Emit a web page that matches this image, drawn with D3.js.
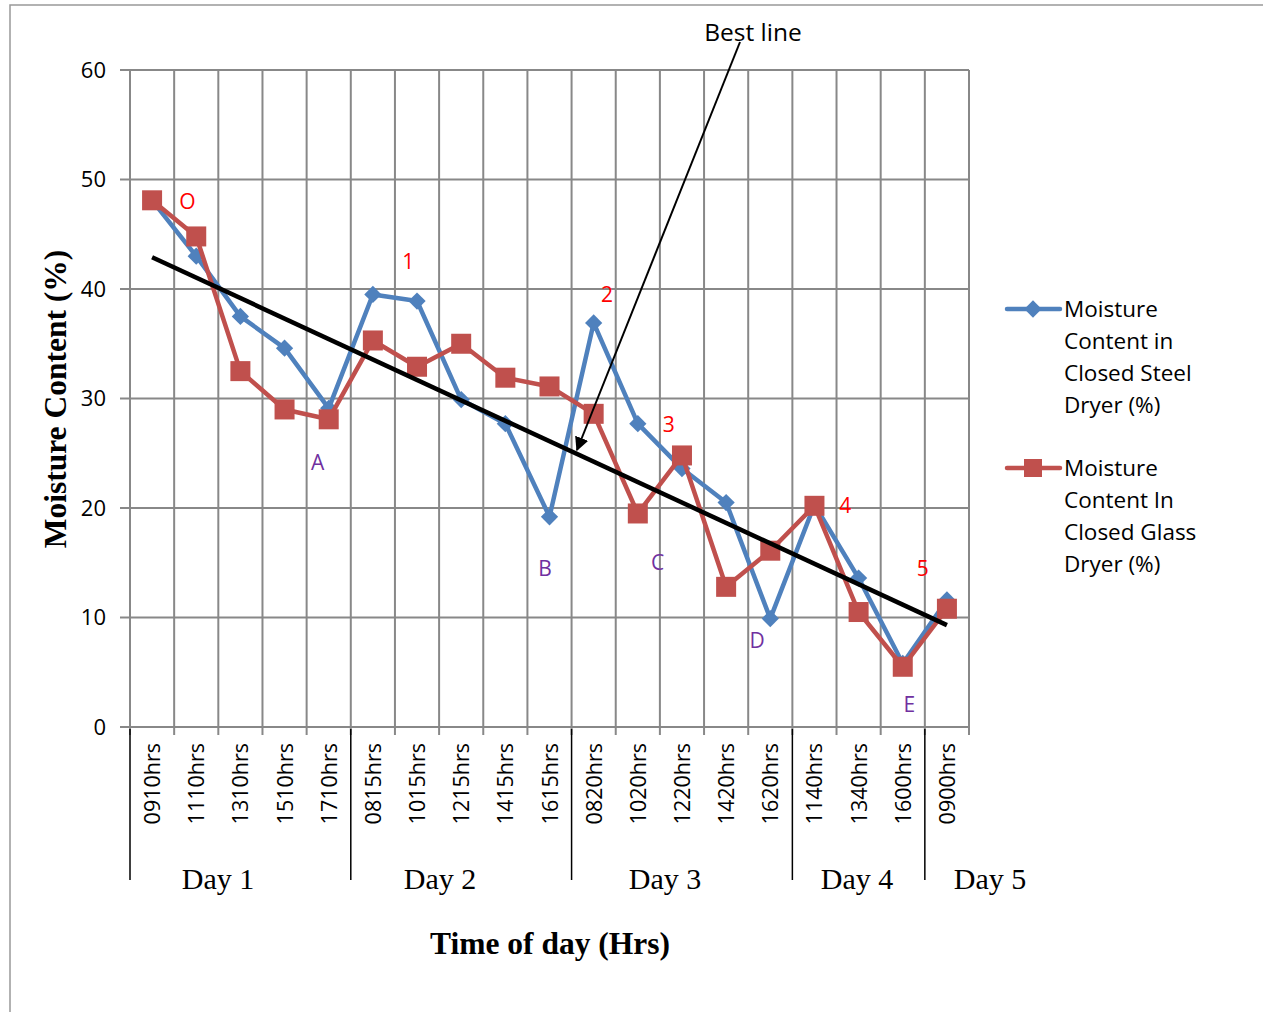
<!DOCTYPE html>
<html><head><meta charset="utf-8">
<script src="https://cdn.jsdelivr.net/npm/d3@7"></script>
<style>body{margin:0;background:#fff}</style>
</head><body>
<svg id="c" width="1263" height="1012"></svg>
<script>
const categories = ["0910hrs","1110hrs","1310hrs","1510hrs","1710hrs","0815hrs","1015hrs","1215hrs","1415hrs","1615hrs","0820hrs","1020hrs","1220hrs","1420hrs","1620hrs","1140hrs","1340hrs","1600hrs","0900hrs"];
const steel = [48.1,43.0,37.5,34.6,29.1,39.5,38.9,29.9,27.7,19.2,36.9,27.7,23.6,20.5,9.9,20.3,13.6,5.8,11.6];
const glass = [48.1,44.8,32.5,29.0,28.1,35.3,32.9,35.0,31.9,31.1,28.6,19.5,24.8,12.8,16.1,20.2,10.5,5.5,10.8];
const days = [{name:"Day 1",start:0,end:5},{name:"Day 2",start:5,end:10},{name:"Day 3",start:10,end:15},{name:"Day 4",start:15,end:18},{name:"Day 5",start:18,end:19}];
const bestLine = [{i:0,v:42.9},{i:18,v:9.3}];
const redNotes = [{t:"O",i:0.8,v:48.0},{t:"1",i:5.8,v:42.5},{t:"2",i:10.3,v:39.5},{t:"3",i:11.7,v:27.6},{t:"4",i:15.7,v:20.2},{t:"5",i:17.45,v:14.5}];
const purpleNotes = [{t:"A",i:3.75,v:24.1},{t:"B",i:8.9,v:14.5},{t:"C",i:11.45,v:15.0},{t:"D",i:13.7,v:7.9},{t:"E",i:17.15,v:2.0}];
const yTicks = [0,10,20,30,40,50,60];

const svg = d3.select("#c");
const L=130,R=969,T=70,B=727;
const x = d3.scaleBand().domain(d3.range(categories.length)).range([L,R]).padding(0);
const cx = i => L + (i+0.5)*x.bandwidth();
const y = d3.scaleLinear().domain([0,60]).range([B,T]);
const blue="#4F81BD", red="#C0504D";
const sans = "Open Sans, sans-serif";

// outer frame
svg.append("path").attr("d","M10,1012V5H1263").attr("fill","none").attr("stroke","#999").attr("stroke-width",1.5);

// grid
const g = svg.append("g");
yTicks.forEach(t=>g.append("line").attr("x1",L).attr("x2",R).attr("y1",y(t)).attr("y2",y(t)).attr("stroke","#888").attr("stroke-width",2));
d3.range(categories.length+1).forEach(i=>{
  const xx = L + i*x.bandwidth();
  g.append("line").attr("x1",xx).attr("x2",xx).attr("y1",T).attr("y2",B+8).attr("stroke","#888").attr("stroke-width",2);
});
// y ticks
yTicks.forEach(t=>{
  g.append("line").attr("x1",L-10).attr("x2",L).attr("y1",y(t)).attr("y2",y(t)).attr("stroke","#888").attr("stroke-width",2);
  g.append("text").attr("x",L-24).attr("y",y(t)).attr("dy","0.35em").attr("text-anchor","end")
   .attr("font-family",sans).attr("font-size",22).text(t);
});
// x labels
categories.forEach((c,i)=>{
  svg.append("text").attr("transform",`translate(${cx(i)+8},${B+16}) rotate(-90)`).attr("text-anchor","end")
   .attr("font-family",sans).attr("font-size",21.5).text(c);
});
// day separators & labels
days.forEach(d=>{
  const xs = L + d.start*x.bandwidth();
  svg.append("line").attr("x1",xs).attr("x2",xs).attr("y1",B+2).attr("y2",880).attr("stroke","#000").attr("stroke-width",1.5);
});
const dayLabelX = [218,440,665,857,990];
days.forEach((d,k)=>{
  svg.append("text").attr("x",dayLabelX[k]).attr("y",889).attr("text-anchor","middle")
   .attr("font-family","Liberation Serif, Times New Roman, serif").attr("font-size",30).text(d.name);
});

// series
const line = d3.line().x((d,i)=>cx(i)).y(d=>y(d));
svg.append("path").datum(steel).attr("d",line).attr("fill","none").attr("stroke",blue).attr("stroke-width",4.5).attr("stroke-linejoin","round");
svg.selectAll(".dm").data(steel).join("path").attr("transform",(d,i)=>`translate(${cx(i)},${y(d)})`)
  .attr("d",d3.symbol(d3.symbolDiamond2,190)).attr("fill",blue);
svg.append("path").datum(glass).attr("d",line).attr("fill","none").attr("stroke",red).attr("stroke-width",4.5).attr("stroke-linejoin","round");
svg.selectAll(".sq").data(glass).join("rect").attr("x",(d,i)=>cx(i)-10).attr("y",d=>y(d)-10).attr("width",20).attr("height",20).attr("fill",red);

// best line
svg.append("line").attr("x1",cx(bestLine[0].i)).attr("y1",y(bestLine[0].v)).attr("x2",cx(bestLine[1].i)).attr("y2",y(bestLine[1].v))
  .attr("stroke","#000").attr("stroke-width",4.5);

// annotations
redNotes.forEach(n=>svg.append("text").attr("x",cx(n.i)).attr("y",y(n.v)).attr("dy","0.35em").attr("text-anchor","middle")
  .attr("font-family",sans).attr("font-size",21).attr("fill","#FF0000").text(n.t));
purpleNotes.forEach(n=>svg.append("text").attr("x",cx(n.i)).attr("y",y(n.v)).attr("dy","0.35em").attr("text-anchor","middle")
  .attr("font-family",sans).attr("font-size",21).attr("fill","#7030A0").text(n.t));

// Best line callout
svg.append("defs").append("marker").attr("id","ah").attr("viewBox","0 0 10 10").attr("refX",9).attr("refY",5)
  .attr("markerWidth",7).attr("markerHeight",7).attr("orient","auto")
  .append("path").attr("d","M0,0L10,5L0,10z").attr("fill","#000");
svg.append("line").attr("x1",740).attr("y1",42).attr("x2",577).attr("y2",450).attr("stroke","#000").attr("stroke-width",2).attr("marker-end","url(#ah)");
svg.append("text").attr("x",753).attr("y",41).attr("text-anchor","middle").attr("font-family",sans).attr("font-size",24.5).text("Best line");

// titles
svg.append("text").attr("x",550).attr("y",954).attr("text-anchor","middle").attr("font-family","Liberation Serif, serif").attr("font-weight","bold").attr("font-size",31.5).text("Time of day (Hrs)");
svg.append("text").attr("transform","translate(66,399) rotate(-90)").attr("text-anchor","middle").attr("font-family","Liberation Serif, serif").attr("font-weight","bold").attr("font-size",31.5).text("Moisture Content (%)");

// legend
const leg = [{c:blue,sym:"d",y:309,lines:["Moisture","Content in","Closed Steel","Dryer (%)"]},{c:red,sym:"s",y:468,lines:["Moisture","Content In","Closed Glass","Dryer (%)"]}];
leg.forEach(l=>{
  svg.append("line").attr("x1",1007).attr("x2",1060).attr("y1",l.y).attr("y2",l.y).attr("stroke",l.c).attr("stroke-width",4.5).attr("stroke-linecap","round");
  if(l.sym==="d") svg.append("path").attr("transform",`translate(1033,${l.y})`).attr("d",d3.symbol(d3.symbolDiamond2,190)).attr("fill",l.c);
  else svg.append("rect").attr("x",1024).attr("y",l.y-9).attr("width",18).attr("height",18).attr("fill",l.c);
  l.lines.forEach((s,k)=>svg.append("text").attr("x",1064).attr("y",l.y+k*32).attr("dy","0.35em").attr("font-family",sans).attr("font-size",22.5).text(s));
});
</script>
</body></html>
